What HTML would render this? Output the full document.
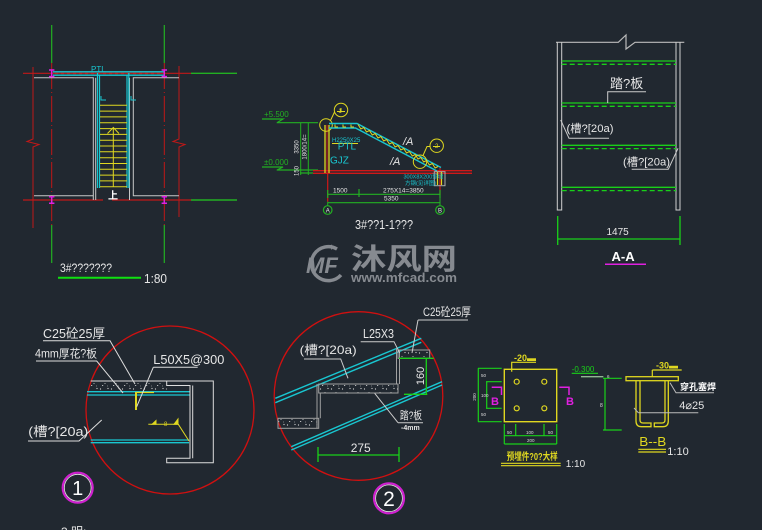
<!DOCTYPE html>
<html><head><meta charset="utf-8"><style>
html,body{margin:0;padding:0;background:#212830;}
svg{display:block;}
text{font-family:"Liberation Sans","Noto Sans CJK SC",sans-serif;}
</style></head><body>
<svg width="762" height="530" viewBox="0 0 762 530" xmlns="http://www.w3.org/2000/svg">
<defs>
<pattern id="dots" width="11" height="9" patternUnits="userSpaceOnUse">
<circle cx="1.5" cy="2" r="0.6" fill="#ddd"/><circle cx="6" cy="5.5" r="0.5" fill="#ddd"/><circle cx="9" cy="1.5" r="0.6" fill="#ddd"/><rect x="3" y="7" width="1.2" height="0.8" fill="#ddd"/><circle cx="8.5" cy="8" r="0.4" fill="#ddd"/>
</pattern>
</defs>
<rect width="762" height="530" fill="#212830"/>

<!-- ================= PLAN ================= -->
<g fill="none">
<path d="M51.7 25V63M164.3 25V63M51.7 225V263M164.3 225V263" stroke="#22b022" stroke-width="1.2"/>
<path d="M51.7 63V225M164.3 63V225" stroke="#c01818" stroke-dasharray="26 3 1 3"/>
<path d="M23 73.3H191M23 200H103M112 200H191" stroke="#c01818" stroke-width="1.2"/>
<path d="M191 73.3H237M191 200H237" stroke="#22b022" stroke-width="1.4"/>
<path d="M33 67V139L27 141.5L39 144.5L33 147V228" stroke="#c01818"/>
<path d="M179 66V139L173 141.5L185 144.5L179 147V217" stroke="#c01818"/>
<path d="M34 77.7H93.3V200M95.7 77.7V200M34 195.7H93.3" stroke="#c8c8c8"/>
<path d="M179 77.7H133.3V195.7H179M129.5 77.7V200" stroke="#c8c8c8"/>
<path d="M53 71.8H165M53 75.2H165" stroke="#19c6d0" stroke-width="1.4"/>
<path d="M55 73.5H163" stroke="#c02020" stroke-width="1.2" stroke-dasharray="3 3"/>
<path d="M97.5 73V188M99.5 75V188M127 75V188M128.8 73V188" stroke="#19c6d0" stroke-width="1.2"/>
<path d="M100 105.3H127M100 111.1H127M100 116.9H127M100 122.7H127M100 128.6H127M100 134.4H127M100 140.2H127M100 146H127M100 151.8H127M100 157.7H127M100 163.5H127M100 169.3H127M100 175.1H127M100 180.9H127M100 186.7H127" stroke="#e0d820"/>
<path d="M113.3 187V128M107.5 133.5L113.3 127.5L119 133.5" stroke="#e0d820"/>
<path d="M101 96V100H106M131 96V100H136" stroke="#19c6d0"/>
<g stroke="#e020e0" stroke-width="1.5">
<path d="M49 70H54.4M49 76.6H54.4M51.7 70V76.6"/>
<path d="M161.6 70H167M161.6 76.6H167M164.3 70V76.6"/>
<path d="M49 196.7H54.4M49 203.3H54.4M51.7 196.7V203.3"/>
<path d="M161.6 196.7H167M161.6 203.3H167M164.3 196.7V203.3"/>
</g>
<path d="M58 277.7H141" stroke="#10e010" stroke-width="2"/>
</g>
<text x="91" y="72" font-size="8" fill="#19c6d0">PTL</text>
<text x="108" y="199" font-size="10" font-weight="bold" fill="#fff">上</text>
<text x="60" y="272" font-size="12" fill="#e6e6e6" textLength="52" lengthAdjust="spacingAndGlyphs">3#???????</text>
<text x="144" y="283" font-size="13" fill="#e6e6e6" textLength="23" lengthAdjust="spacingAndGlyphs">1:80</text>

<!-- ================= ELEVATION 1-1 ================= -->
<g fill="none">
<path d="M262 119H283L277 122.7M276.7 122.7H318" stroke="#22b022" stroke-width="1.2"/>
<path d="M262 167H283L277 170M276.7 170H318M300 173H313" stroke="#22b022" stroke-width="1.2"/>
<path d="M300.7 122.7V175M308.3 122.7V175" stroke="#22b022"/>
<path d="M313 170.7H472M313 173.3H472" stroke="#d01818" stroke-width="1.3"/>
<path d="M325 125V173M329 125V173" stroke="#e0d820" stroke-width="1.3"/>
<path d="M327 125V173" stroke="#d01818"/>
<path d="M327.7 173V201.7M440 168V195" stroke="#d01818" stroke-width="1.2"/>
<path d="M327.7 201.7V206M440 195V206" stroke="#22b022"/>
<circle cx="326" cy="125" r="6.3" stroke="#e0d820"/>
<circle cx="341" cy="110" r="6.7" stroke="#e0d820"/>
<path d="M330.5 120.5L334.5 112H335" stroke="#e0d820"/>
<path d="M337 111.5H345M341 108V111.5" stroke="#e0d820"/>
<path d="M329 123.5H357L441 167.5M329 128H355.5L437 171" stroke="#19c6d0" stroke-width="1.4"/>
<path d="M335 124.5v2.5h3M343 124.5v2.5h3M351 124.5v2.5h3" stroke="#e0d820"/>
<polyline points="358,124.5 360.86,129 363.71,127.5 366.57,132 369.43,130.5 372.29,135 375.14,133.5 378,138 380.86,136.5 383.71,141 386.57,139.5 389.43,144 392.29,142.5 395.14,147 398,145.5 400.86,150 403.71,148.5 406.57,153 409.43,151.5 412.29,156 415.14,154.5 418,159 420.86,157.5 423.71,162 426.57,160.5 429.43,165 432.29,163.5 435.14,168 438,166.5" stroke="#e0d820"/>
<circle cx="420" cy="161.7" r="6.7" stroke="#e0d820"/>
<circle cx="436.7" cy="145.7" r="6.7" stroke="#e0d820"/>
<path d="M423 155.5L427 146.5H430" stroke="#e0d820"/>
<path d="M433 146.5H440" stroke="#e0d820"/>
<rect x="434.3" y="171.7" width="10.7" height="14" stroke="#aaa"/>
<path d="M437.5 172V185M441.5 172V185" stroke="#e0d820" stroke-width="1.2"/>
<path d="M332 143.5H358" stroke="#e0d820"/>
<path d="M327.7 194.3H440M327.7 202.7H440M359 189V197M327.7 190V198M440 190V198" stroke="#22b022" stroke-width="1.2"/>
<circle cx="327.7" cy="210" r="4.3" stroke="#22b022" stroke-width="1.2"/>
<circle cx="440" cy="210" r="4.3" stroke="#22b022" stroke-width="1.2"/>
</g>
<text x="264" y="117" font-size="8" fill="#22b022">+5.500</text>
<text x="264" y="165" font-size="8" fill="#22b022">±0.000</text>
<text transform="translate(298.5,147) rotate(-90)" font-size="6" fill="#e6e6e6" text-anchor="middle">3350</text>
<text transform="translate(306.5,147) rotate(-90)" font-size="6" fill="#e6e6e6" text-anchor="middle">1800/14=</text>
<text transform="translate(298.5,171) rotate(-90)" font-size="6" fill="#e6e6e6" text-anchor="middle">150</text>
<text x="332" y="142" font-size="6" fill="#19c6d0">H2250X25</text>
<text x="337.7" y="149.5" font-size="10" fill="#19c6d0">PTL</text>
<text x="330" y="163.5" font-size="10" fill="#19c6d0">GJZ</text>
<text x="403" y="145" font-size="11" font-style="italic" fill="#e6e6e6">/A</text>
<text x="390" y="165" font-size="11" font-style="italic" fill="#e6e6e6">/A</text>
<text x="340" y="113" font-size="6" fill="#e0d820" text-anchor="middle">1</text>
<text x="436.7" y="148" font-size="6" fill="#e0d820" text-anchor="middle">2</text>
<text x="403.5" y="178.5" font-size="5.5" fill="#19c6d0">300X8X200预埋</text>
<text x="405" y="185" font-size="5.5" fill="#19c6d0">方钢(见详图)</text>
<text x="333" y="192.5" font-size="6.5" fill="#e6e6e6">1500</text>
<text x="383" y="192.5" font-size="6.5" fill="#e6e6e6">275X14=3850</text>
<text x="384" y="200.5" font-size="6.5" fill="#e6e6e6">5350</text>
<text x="327.7" y="212.3" font-size="6" fill="#e6e6e6" text-anchor="middle">A</text>
<text x="440" y="212.3" font-size="6" fill="#e6e6e6" text-anchor="middle">B</text>
<text x="355" y="229" font-size="12.5" fill="#e6e6e6" textLength="58" lengthAdjust="spacingAndGlyphs">3#??1-1???</text>

<!-- ================= A-A ================= -->
<g fill="none">
<path d="M556 42.3H618.3L626 35V49L635 42.3H684.3" stroke="#bbb" stroke-width="1.2"/>
<path d="M557.3 42.3V210H561.7V42.3M676 42.3V210H680V42.3" stroke="#d0d0d0"/>
<g stroke="#19d019" stroke-width="1.3">
<path d="M561.7 61H676M561.7 103H676M561.7 145.3H676M561.7 187.3H676"/>
<path d="M561.7 64.3H676M561.7 106.3H676M561.7 148.6H676M561.7 190.6H676" stroke-dasharray="5 3"/>
</g>
<path d="M607.7 103V91.7H646" stroke="#ccc"/>
<path d="M560.7 120L569 138.3H609" stroke="#ccc"/>
<path d="M678 148.3L668.3 169.3H631.7" stroke="#ccc"/>
<path d="M557.7 216V245M680 216V245M557.7 239H680" stroke="#19d019" stroke-width="1.3"/>
<path d="M605 264.3H646" stroke="#e020e0" stroke-width="1.5"/>
</g>
<text x="610" y="88" font-size="13" fill="#e6e6e6">踏?板</text>
<text x="566.5" y="132" font-size="11" fill="#e6e6e6" textLength="47" lengthAdjust="spacingAndGlyphs">(槽?[20a)</text>
<text x="623" y="165.5" font-size="11" fill="#e6e6e6" textLength="47" lengthAdjust="spacingAndGlyphs">(槽?[20a)</text>
<text x="606.5" y="235" font-size="10" fill="#e6e6e6">1475</text>
<text x="611.5" y="261" font-size="13" font-weight="bold" fill="#fff">A-A</text>

<!-- ================= WATERMARK ================= -->
<g fill="#868a90">
<path d="M337 249A17 17 0 1 0 341 275" fill="none" stroke="#868a90" stroke-width="3.5"/>
<text x="306" y="273" font-size="22" font-weight="bold" font-style="italic">MF</text>
<text x="329" y="250" font-size="9" font-weight="bold">+</text>
<text x="351" y="269" font-size="29" font-weight="bold" textLength="106" lengthAdjust="spacingAndGlyphs">沐风网</text>
<text x="351" y="282" font-size="13" font-weight="bold" textLength="106" lengthAdjust="spacingAndGlyphs">www.mfcad.com</text>
</g>

<!-- ================= DETAIL 1 ================= -->
<g fill="none">
<circle cx="170" cy="410" r="84" stroke="#d01010" stroke-width="1.3"/>
<rect x="90.7" y="381" width="76" height="10" fill="url(#dots)" stroke="none"/>
<path d="M90.7 381H166.7" stroke="#ddd"/>
<path d="M87 391.7H190M87 395H190" stroke="#19c6d0" stroke-width="1.3"/>
<path d="M90.7 440H189M90.7 442.7H189" stroke="#19c6d0" stroke-width="1.3"/>
<path d="M166.7 381H213.3V462.7H166.7V458.3H190V385.5H166.7ZM192.7 385.5V458.3" stroke="#ddd"/>
<path d="M136 393V410" stroke="#e0d820" stroke-width="2"/>
<path d="M135 392.5H154" stroke="#e0d820" stroke-width="1.3"/>
<path d="M148.3 424.3H178.3L189 441" stroke="#e0d820"/>
<path d="M152 424.3L156 420.5V424.3Z" fill="#e0d820" stroke="#e0d820"/>
<path d="M174 424.3L178 419V424.3Z" fill="#e0d820" stroke="#e0d820"/>
<path d="M43 340.7H110L135 384M36 361H96.7L123 393M153.3 367.3H197.7M153.3 367.3L136.7 406.7M28 441H79L101.7 420" stroke="#ddd"/>
<circle cx="77.7" cy="487.7" r="15" stroke="#d020d0" stroke-width="2.2"/>
<circle cx="77.7" cy="487.7" r="13.4" stroke="#e8e8e8" stroke-width="0.8"/>
</g>
<text x="165" y="338" font-size="7" fill="#e0d820" display="none">.</text>
<text x="164" y="426" font-size="6" fill="#e0d820">8</text>
<text x="43" y="338" font-size="13" fill="#e6e6e6" textLength="62" lengthAdjust="spacingAndGlyphs">C25砼25厚</text>
<text x="35" y="357.5" font-size="11.5" fill="#e6e6e6" textLength="62" lengthAdjust="spacingAndGlyphs">4mm厚花?板</text>
<text x="153.3" y="364" font-size="13" fill="#e6e6e6" textLength="71" lengthAdjust="spacingAndGlyphs">L50X5@300</text>
<text x="28.3" y="436" font-size="13" fill="#e6e6e6" textLength="60" lengthAdjust="spacingAndGlyphs">(槽?[20a)</text>
<text x="77.7" y="495" font-size="20" fill="#fff" text-anchor="middle" font-family="Liberation Serif, serif">1</text>
<text x="61" y="536" font-size="12" fill="#e6e6e6">3  明:</text>

<!-- ================= DETAIL 2 ================= -->
<g fill="none">
<circle cx="358.5" cy="396" r="84.3" stroke="#d01010" stroke-width="1.3"/>
<path d="M275.3 398.3L421.3 338.3M275.3 402.7L421.3 342.3" stroke="#19c6d0" stroke-width="1.4"/>
<path d="M291.3 446.7L442 381.7M291.3 450L442 385" stroke="#19c6d0" stroke-width="1.4"/>
<rect x="398" y="350" width="31.7" height="8.3" fill="url(#dots)" stroke="#a0a0a0"/>
<rect x="318.7" y="384" width="79.3" height="9" fill="url(#dots)" stroke="#a0a0a0"/>
<rect x="278" y="418.3" width="40.7" height="10" fill="url(#dots)" stroke="#a0a0a0"/>
<path d="M396.5 348.5V384M399.5 350V384M317 384V428.3M320.3 393V418.3" stroke="#a0a0a0"/>
<path d="M399 358.3H433.7M426.3 358.3V395M404 394.3H427.3" stroke="#19d019" stroke-width="1.3"/>
<path d="M418 320H468M418 320L412 353M360.7 341.7H394L399.7 353M304 359H340.7L348 378.3M398 422.7H423M398 422.7L374.7 393.3" stroke="#ccc"/>
<path d="M318 455H399M318 447V462M399 447V462" stroke="#19d019" stroke-width="1.3"/>
<circle cx="389" cy="498.3" r="15" stroke="#d020d0" stroke-width="2.2"/>
<circle cx="389" cy="498.3" r="13.4" stroke="#e8e8e8" stroke-width="0.8"/>
</g>
<text x="423" y="316" font-size="12" fill="#e6e6e6" textLength="48" lengthAdjust="spacingAndGlyphs">C25砼25厚</text>
<text x="363" y="338" font-size="12.5" fill="#e6e6e6" textLength="31" lengthAdjust="spacingAndGlyphs">L25X3</text>
<text x="299.7" y="354" font-size="12" fill="#e6e6e6" textLength="57" lengthAdjust="spacingAndGlyphs">(槽?[20a)</text>
<text transform="translate(424,376) rotate(-90)" font-size="11" fill="#e6e6e6" text-anchor="middle">160</text>
<text x="400" y="419" font-size="11" fill="#e6e6e6" textLength="22" lengthAdjust="spacingAndGlyphs">踏?板</text>
<text x="401" y="430" font-size="7" font-weight="bold" fill="#e6e6e6">-4mm</text>
<text x="350.7" y="452" font-size="12" fill="#e6e6e6">275</text>
<text x="389" y="506" font-size="21" fill="#fff" text-anchor="middle" font-family="Liberation Serif, serif">2</text>

<!-- ================= EMBED PLATE ================= -->
<g fill="none">
<rect x="504.3" y="369.3" width="52.4" height="52.4" stroke="#e0d820" stroke-width="1.4"/>
<circle cx="516.7" cy="381.7" r="2.5" stroke="#e0d820" stroke-width="1.2"/>
<circle cx="544.3" cy="381.7" r="2.5" stroke="#e0d820" stroke-width="1.2"/>
<circle cx="516.7" cy="408.3" r="2.5" stroke="#e0d820" stroke-width="1.2"/>
<circle cx="544.3" cy="408.3" r="2.5" stroke="#e0d820" stroke-width="1.2"/>
<path d="M511.7 371.7V362.3H536" stroke="#e0d820" stroke-width="1.2"/>
<path d="M491.7 387.3H501.5V395M559.3 387.3H569V395" stroke="#e020e0" stroke-width="1.5"/>
<path d="M478.3 368.3V421.7M486.7 381.7V408.3M478 368.3H501.7M486 381.7H501.7M486 408.3H501.7M478 421.7H501.7" stroke="#19d019" stroke-width="1.2"/>
<path d="M504.3 435.7H556.7M504.3 444H556.7M504.3 424V444M515.7 424V436M544 424V436M556.7 424V444" stroke="#19d019" stroke-width="1.2"/>
<path d="M501 463.3H560.7M501 465.7H560.7" stroke="#e0d820" stroke-width="1.2"/>
<path d="M571.7 373.3H598M581 376.7H603.3" stroke="#19d019" stroke-width="1.2"/>
<path d="M581 376.7H603.3" stroke="#bbb"/>
</g>
<text x="514" y="361" font-size="9" font-weight="bold" fill="#e0d820">-20▬</text>
<text x="491" y="405" font-size="11" font-weight="bold" fill="#e020e0">B</text>
<text x="566" y="405" font-size="11" font-weight="bold" fill="#e020e0">B</text>
<text x="481" y="377" font-size="4.5" fill="#ddd">50</text>
<text x="481" y="397" font-size="4.5" fill="#ddd">100</text>
<text x="481" y="416" font-size="4.5" fill="#ddd">50</text>
<text transform="translate(476,397) rotate(-90)" font-size="4.5" fill="#ddd" text-anchor="middle">200</text>
<text x="507" y="434" font-size="4.5" fill="#ddd">50</text>
<text x="526" y="434" font-size="4.5" fill="#ddd">100</text>
<text x="548" y="434" font-size="4.5" fill="#ddd">50</text>
<text x="527" y="442" font-size="4.5" fill="#ddd">200</text>
<text x="506.7" y="460" font-size="10" font-weight="bold" fill="#e0d820" textLength="51" lengthAdjust="spacingAndGlyphs">预埋件?0?大样</text>
<text x="565.7" y="467" font-size="10" fill="#e6e6e6">1:10</text>
<text x="571.7" y="372" font-size="8" fill="#19d019">-0.300</text>

<!-- ================= B-B ================= -->
<g fill="none">
<rect x="626" y="376.7" width="52.3" height="4" stroke="#e0d820" stroke-width="1.3"/>
<path d="M636 380.7V421Q636 426.7 641.5 426.7H651V423H643Q640 423 640 420V380.7" stroke="#e0d820" stroke-width="1.3"/>
<path d="M668.3 380.7V421Q668.3 426.7 662.8 426.7H654.3V423H662Q665 423 665 420V380.7" stroke="#e0d820" stroke-width="1.3"/>
<path d="M652.3 370H681.7M652.3 370V376.7" stroke="#e0d820" stroke-width="1.2"/>
<path d="M670 382.7L676 392.7H714" stroke="#bbb"/>
<path d="M638.3 412.7H698.3M634 408L638.3 412.7" stroke="#bbb"/>
<path d="M605 378.3V430M603 378.3H621.7M603 430H621.7" stroke="#19d019" stroke-width="1.2"/>
<path d="M638.3 449.3H666M638.3 452H666" stroke="#e0d820" stroke-width="1.2"/>
</g>
<text x="656" y="368.5" font-size="9" font-weight="bold" fill="#e0d820">-30▬</text>
<text x="680" y="390" font-size="9" font-weight="bold" fill="#fff">穿孔塞焊</text>
<text x="679.3" y="409" font-size="11" fill="#e6e6e6">4⌀25</text>
<text x="639.3" y="446" font-size="13" fill="#e0d820" textLength="27" lengthAdjust="spacingAndGlyphs">B--B</text>
<text x="667.3" y="455" font-size="11" fill="#e6e6e6">1:10</text>
<text x="607" y="378" font-size="4.5" fill="#ddd">6</text>
<text x="600" y="407" font-size="5" fill="#ddd">8</text>
</svg>
</body></html>
